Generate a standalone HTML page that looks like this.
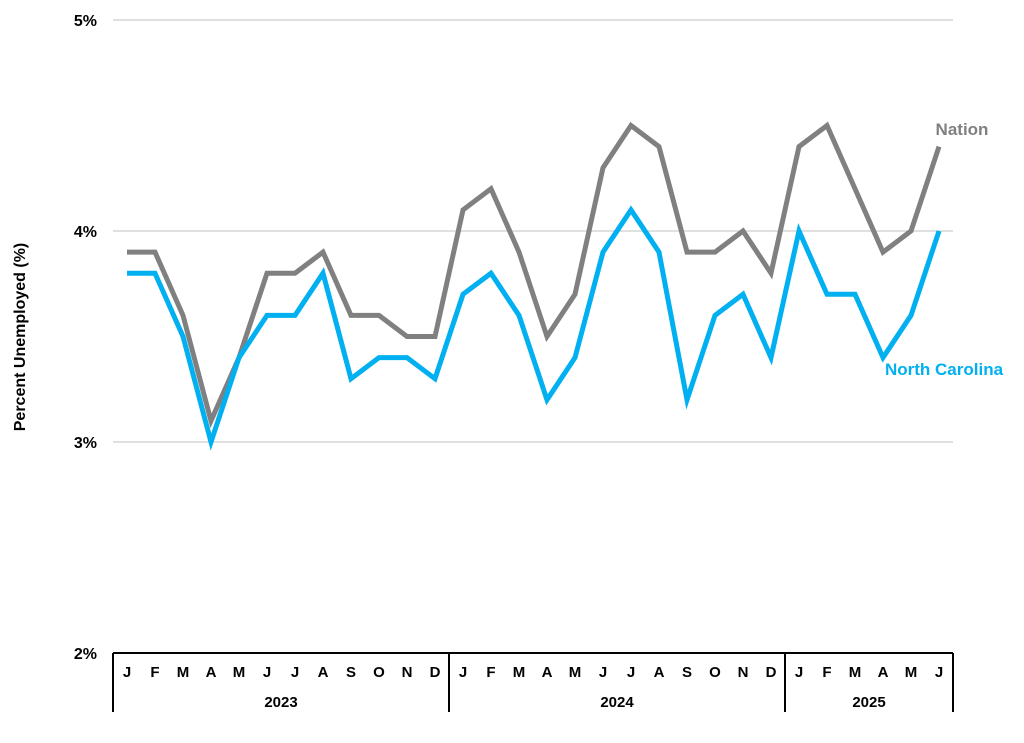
<!DOCTYPE html>
<html><head><meta charset="utf-8"><style>
html,body{margin:0;padding:0;background:#fff;width:1024px;height:743px;overflow:hidden}
svg{display:block;font-family:"Liberation Sans",Arial,sans-serif;font-weight:bold}
</style></head><body>
<svg id="s" width="1024" height="743" viewBox="0 0 1024 743">
<g stroke="#c0c0c0" stroke-width="1">
<line x1="113" y1="20" x2="953" y2="20"/>
<line x1="113" y1="231" x2="953" y2="231"/>
<line x1="113" y1="442" x2="953" y2="442"/>
</g>
<g stroke="#000" stroke-width="2">
<line x1="113" y1="653" x2="953" y2="653"/>
<line x1="113" y1="653" x2="113" y2="712"/>
<line x1="449" y1="653" x2="449" y2="712"/>
<line x1="785" y1="653" x2="785" y2="712"/>
<line x1="953" y1="653" x2="953" y2="712"/>
</g>
<g font-size="16" text-anchor="end" fill="#000">
<text x="97" y="26">5%</text>
<text x="97" y="237">4%</text>
<text x="97" y="448">3%</text>
<text x="97" y="659">2%</text>
</g>
<text transform="translate(25,337) rotate(-90)" text-anchor="middle" font-size="16">Percent Unemployed (%)</text>
<g id="months" font-size="15" text-anchor="middle"></g>
<g font-size="15" text-anchor="middle">
<text x="281" y="707">2023</text>
<text x="617" y="707">2024</text>
<text x="869" y="707">2025</text>
</g>
<polyline id="nat" fill="none" stroke="#808080" stroke-width="5" stroke-linejoin="miter"/>
<polyline id="nc" fill="none" stroke="#00b0f0" stroke-width="5" stroke-linejoin="miter"/>
<text x="962" y="135" font-size="17" fill="#808080" text-anchor="middle">Nation</text>
<text x="944" y="375" font-size="17" fill="#00b0f0" text-anchor="middle">North Carolina</text>
</svg>
<script>
var nat=[3.9,3.9,3.6,3.1,3.4,3.8,3.8,3.9,3.6,3.6,3.5,3.5,4.1,4.2,3.9,3.5,3.7,4.3,4.5,4.4,3.9,3.9,4.0,3.8,4.4,4.5,4.2,3.9,4.0,4.4];
var nc=[3.8,3.8,3.5,3.0,3.4,3.6,3.6,3.8,3.3,3.4,3.4,3.3,3.7,3.8,3.6,3.2,3.4,3.9,4.1,3.9,3.2,3.6,3.7,3.4,4.0,3.7,3.7,3.4,3.6,4.0];
function pts(a){return a.map(function(v,i){return (127+i*28)+","+(653-(v-2)*211).toFixed(1)}).join(" ")}
document.getElementById("nat").setAttribute("points",pts(nat));
document.getElementById("nc").setAttribute("points",pts(nc));
var m="JFMAMJJASOND",g=document.getElementById("months"),h="";
for(var i=0;i<30;i++)h+='<text x="'+(127+i*28)+'" y="677">'+m[i%12]+'</text>';
g.innerHTML=h;
</script>
</body></html>
